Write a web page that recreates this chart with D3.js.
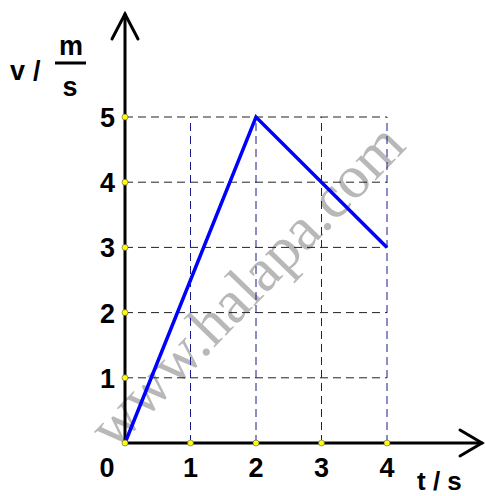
<!DOCTYPE html>
<html>
<head>
<meta charset="utf-8">
<script src="https://cdn.jsdelivr.net/npm/d3@7"></script>
<style>
  html, body { margin: 0; padding: 0; background: #fff; }
  svg { display: block; }
</style>
</head>
<body>
<svg id="chart" width="485" height="496"></svg>
<script>
// Velocity–time data
const times = [0, 2, 4];
const velocities = [0, 5, 3];
const xTicks = [1, 2, 3, 4];
const yTicks = [1, 2, 3, 4, 5];

const svg = d3.select("#chart");
const x = d3.scaleLinear().domain([0, 4]).range([125, 387]);
const y = d3.scaleLinear().domain([0, 5]).range([443, 117]);

const boldFont = "'Liberation Sans', Arial, sans-serif";

// watermark
svg.append("text")
  .attr("transform", `translate(${x(1.92)},${y(2.35)}) rotate(-46)`)
  .attr("text-anchor", "middle")
  .attr("dominant-baseline", "middle")
  .attr("font-family", "'Liberation Serif', 'Times New Roman', serif")
  .attr("font-size", 61)
  .attr("fill", "#b8b8b8")
  .text("www.halapa.com");

// horizontal grid
svg.append("g").selectAll("line").data(yTicks).join("line")
  .attr("x1", x(0)).attr("x2", x(4))
  .attr("y1", d => y(d)).attr("y2", d => y(d))
  .attr("stroke", "#222").attr("stroke-width", 1)
  .attr("stroke-dasharray", "8,5");

// vertical grid
svg.append("g").selectAll("line").data(xTicks).join("line")
  .attr("x1", d => x(d)).attr("x2", d => x(d))
  .attr("y1", y(0)).attr("y2", y(5))
  .attr("stroke", "#1a1a8c").attr("stroke-width", 1)
  .attr("stroke-dasharray", "8,5");

// axes with arrow heads
const ax = svg.append("g").attr("stroke", "#000").attr("stroke-width", 3)
  .attr("fill", "none").attr("stroke-linecap", "round");
ax.append("line").attr("x1", x(0)).attr("y1", y(0)).attr("x2", x(0)).attr("y2", 14);
ax.append("polyline").attr("points", `${x(0) - 13},39 ${x(0)},14 ${x(0) + 13},39`);
ax.append("line").attr("x1", x(0)).attr("y1", y(0)).attr("x2", 482).attr("y2", y(0));
ax.append("polyline").attr("points", `460,${y(0) - 13} 482,${y(0)} 460,${y(0) + 13}`);

// data line
svg.append("path")
  .datum(times.map((t, i) => [t, velocities[i]]))
  .attr("d", d3.line().x(d => x(d[0])).y(d => y(d[1])))
  .attr("fill", "none").attr("stroke", "#0000ff")
  .attr("stroke-width", 3.5).attr("stroke-linejoin", "miter");

// tick markers
const dots = [[0, 0]].concat(xTicks.map(t => [t, 0]), yTicks.map(v => [0, v]));
svg.append("g").selectAll("circle").data(dots).join("circle")
  .attr("cx", d => x(d[0])).attr("cy", d => y(d[1])).attr("r", 3)
  .attr("fill", "#ffff00").attr("stroke", "#555").attr("stroke-width", 0.6);

// tick labels
const lab = svg.append("g").attr("font-family", boldFont).attr("font-weight", "bold")
  .attr("font-size", 27).attr("fill", "#000");
lab.selectAll(".xl").data(xTicks).join("text")
  .attr("x", d => x(d)).attr("y", 477).attr("text-anchor", "middle").text(d => d);
lab.selectAll(".yl").data(yTicks).join("text")
  .attr("x", 115).attr("y", d => y(d) + 10).attr("text-anchor", "end").text(d => d);
lab.append("text").attr("x", 107).attr("y", 477).attr("text-anchor", "middle").text("0");

// axis titles
lab.append("text").attr("x", 10).attr("y", 80).text("v");
lab.append("text").attr("x", 33).attr("y", 80).text("/");
lab.append("text").attr("x", 71).attr("y", 55).attr("text-anchor", "middle").text("m");
svg.append("line").attr("x1", 55).attr("x2", 86).attr("y1", 63).attr("y2", 63)
  .attr("stroke", "#000").attr("stroke-width", 3);
lab.append("text").attr("x", 70).attr("y", 96).attr("text-anchor", "middle").text("s");
lab.append("text").attr("x", 417).attr("y", 490).attr("font-size", 26).text("t / s");
</script>
</body>
</html>
